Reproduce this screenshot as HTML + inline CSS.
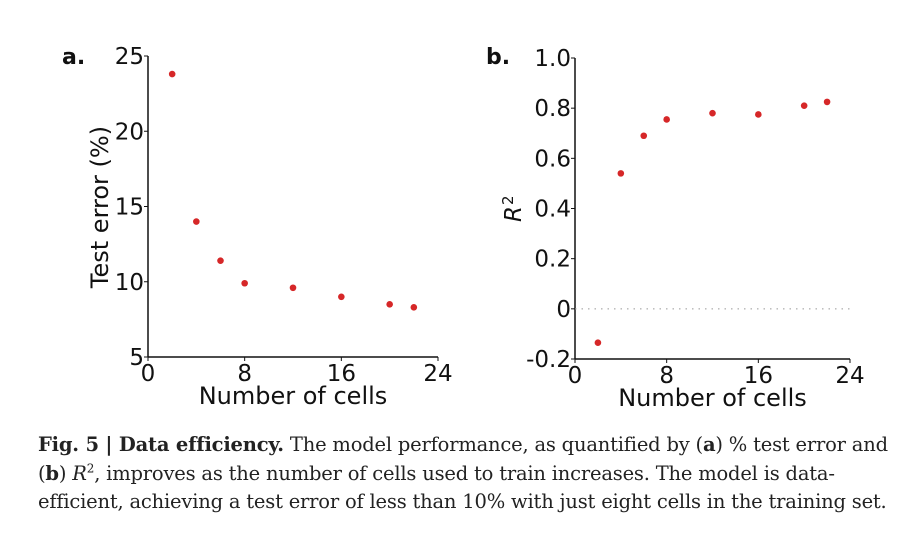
<!DOCTYPE html>
<html><head><meta charset="utf-8"><style>
body{margin:0;background:#fff;width:908px;height:535px;overflow:hidden;position:relative}
svg{position:absolute;left:0;top:0}
.t{font-family:"DejaVu Sans","Liberation Sans",sans-serif;fill:#111}
.cap{position:absolute;left:38px;top:431px;width:860px;font-family:"DejaVu Serif","Liberation Serif",serif;font-size:19.5px;line-height:28.5px;color:#222;white-space:nowrap;letter-spacing:-0.2px}
.cap sup{font-size:12px;line-height:0}
</style></head><body>
<svg width="908" height="430" id="fig"></svg>
<div class="cap"><b>Fig. 5 | Data efficiency.</b> The model performance, as quantified by (<b>a</b>) % test error and<br>(<b>b</b>) <i>R</i><sup>2</sup>, improves as the number of cells used to train increases. The model is data-<br>efficient, achieving a test error of less than 10% with just eight cells in the training set.</div>
<script>
const cells=[2,4,6,8,12,16,20,22];
const testError=[23.8,14.0,11.4,9.9,9.6,9.0,8.5,8.3];
const r2=[-0.135,0.54,0.69,0.755,0.78,0.775,0.81,0.825];
const xTicks=[0,8,16,24];
const yTicksA=[5,10,15,20,25];
const yTicksB=[-0.2,0,0.2,0.4,0.6,0.8,1.0];
const yLabelsB=["-0.2","0","0.2","0.4","0.6","0.8","1.0"];
const svg=document.getElementById('fig');
const NS='http://www.w3.org/2000/svg';
function el(tag,attrs,txt){const e=document.createElementNS(NS,tag);for(const k in attrs)e.setAttribute(k,attrs[k]);if(txt!==undefined)e.textContent=txt;svg.appendChild(e);return e;}
function panel(p){
 const sx=v=>p.x0+(v-0)/(24)*(p.x1-p.x0);
 const sy=v=>p.yb+(v-p.ymin)/(p.ymax-p.ymin)*(p.yt-p.yb);
 let e=el('line',{x1:p.x0,y1:p.yt,x2:p.x0,y2:p.yb,stroke:'#111','stroke-width':1.5});
 
 
 e=el('line',{x1:p.x0,y1:p.yb,x2:p.x1,y2:p.yb,stroke:'#111','stroke-width':1.5});
 
 
 if(p.zero){e=el('line',{x1:p.x0,y1:sy(0),x2:p.x1,y2:sy(0),stroke:'#999','stroke-width':1,'stroke-dasharray':'1.5,5'});
  
  }
 xTicks.forEach(v=>{el('line',{x1:sx(v),y1:p.yb,x2:sx(v),y2:p.yb+4,stroke:'#111'});
  e=el('text',{x:sx(v),y:p.yb+24,'text-anchor':'middle','font-size':23,class:'t'},String(v));
  
  });
 p.yt_.forEach((v,i)=>{el('line',{x1:p.x0-4,y1:sy(v),x2:p.x0,y2:sy(v),stroke:'#111'});
  e=el('text',{x:p.x0-4,y:sy(v)+8,'text-anchor':'end','font-size':23,class:'t'},p.yl[i]);
  
  });
 p.vals.forEach((v,i)=>{e=el('circle',{cx:sx(cells[i]),cy:sy(v),r:3.3,fill:'#d62728'});
  
  });
 e=el('text',{x:(p.x0+p.x1)/2,y:p.yb+47,'text-anchor':'middle','font-size':24,class:'t'},'Number of cells');
 
 
 e=el('text',{x:p.lx,y:64,'font-size':22,'font-weight':'bold',class:'t'},p.letter);
 
 
}
panel({id:'a',x0:148,x1:438,yt:56,yb:357,ymin:5,ymax:25,yt_:yTicksA,yl:yTicksA.map(String),vals:testError,letter:'a.',lx:62});
panel({id:'b',x0:575,x1:850,yt:58,yb:359,ymin:-0.2,ymax:1.0,yt_:yTicksB,yl:yLabelsB,vals:r2,zero:true,letter:'b.',lx:486});
let e=el('text',{transform:'translate(108,207) rotate(-90)','text-anchor':'middle','font-size':24,class:'t'},'Test error (%)');


e=el('text',{transform:'translate(521,222) rotate(-90)','font-size':23,class:'t','font-style':'italic'},'R');


e=el('text',{transform:'translate(513,205) rotate(-90)','font-size':15,class:'t'},'2');


</script>
</body></html>
